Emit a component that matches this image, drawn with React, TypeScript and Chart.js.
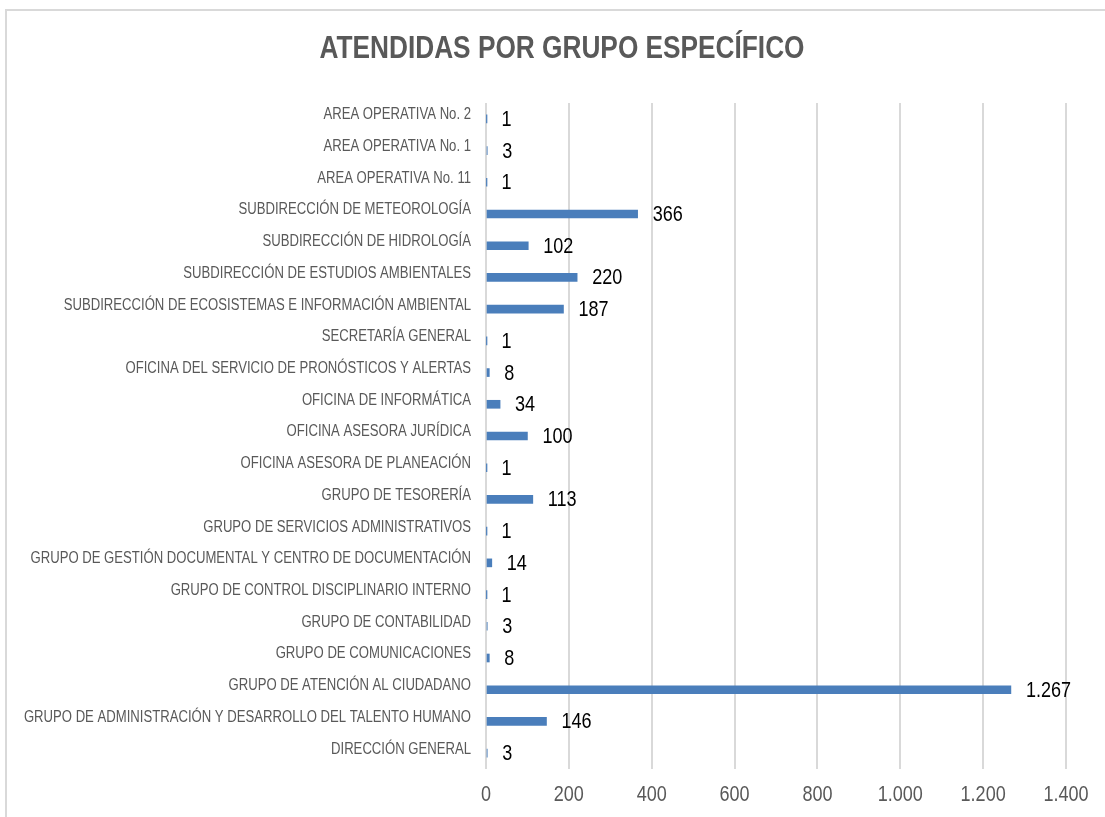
import React, { useEffect, useRef } from "react";
import { Chart, registerables } from "chart.js";

Chart.register(...registerables);

const chartTitle = "ATENDIDAS POR GRUPO ESPECÍFICO";

const categories = [
  "AREA OPERATIVA No. 2",
  "AREA OPERATIVA No. 1",
  "AREA OPERATIVA No. 11",
  "SUBDIRECCIÓN DE METEOROLOGÍA",
  "SUBDIRECCIÓN DE HIDROLOGÍA",
  "SUBDIRECCIÓN DE ESTUDIOS AMBIENTALES",
  "SUBDIRECCIÓN DE ECOSISTEMAS E INFORMACIÓN AMBIENTAL",
  "SECRETARÍA GENERAL",
  "OFICINA DEL SERVICIO DE PRONÓSTICOS Y ALERTAS",
  "OFICINA DE INFORMÁTICA",
  "OFICINA ASESORA JURÍDICA",
  "OFICINA ASESORA DE PLANEACIÓN",
  "GRUPO DE TESORERÍA",
  "GRUPO DE SERVICIOS ADMINISTRATIVOS",
  "GRUPO DE GESTIÓN DOCUMENTAL Y CENTRO DE DOCUMENTACIÓN",
  "GRUPO DE CONTROL DISCIPLINARIO INTERNO",
  "GRUPO DE CONTABILIDAD",
  "GRUPO DE COMUNICACIONES",
  "GRUPO DE ATENCIÓN AL CIUDADANO",
  "GRUPO DE ADMINISTRACIÓN Y DESARROLLO DEL TALENTO HUMANO",
  "DIRECCIÓN GENERAL",
];

const values = [1, 3, 1, 366, 102, 220, 187, 1, 8, 34, 100, 1, 113, 1, 14, 1, 3, 8, 1267, 146, 3];

const xMin = 0;
const xMax = 1400;
const xStep = 200;

const FONT = '"Liberation Sans", Arial, sans-serif';
const NARROW = 0.82; // horizontal squeeze to imitate Arial Narrow

const fmt = (v: number) => String(Math.round(v)).replace(/\B(?=(\d{3})+(?!\d))/g, ".");

const condensedText = {
  id: "condensedText",
  afterDraw(chart: any) {
    const ctx = chart.ctx;
    const xs = chart.scales.x;
    const ys = chart.scales.y;
    const draw = (text: string, px: number, py: number, align: CanvasTextAlign, font: string, color: string) => {
      ctx.save();
      ctx.font = font;
      ctx.fillStyle = color;
      ctx.textAlign = align;
      ctx.textBaseline = "middle";
      ctx.translate(px, py);
      ctx.scale(NARROW, 1);
      ctx.fillText(text, 0, 0);
      ctx.restore();
    };
    // title
    draw(chartTitle, 562, 49, "center", `bold 32px ${FONT}`, "#595959");
    // category labels
    categories.forEach((c, i) => {
      draw(c, ys.left + ys.width - 15, ys.getPixelForTick(i) - 4, "right", `16px ${FONT}`, "#595959");
    });
    // x tick labels
    xs.ticks.forEach((t: any, i: number) => {
      draw(fmt(t.value), xs.getPixelForTick(i), 795, "center", `22px ${FONT}`, "#595959");
    });
    // value labels
    const meta = chart.getDatasetMeta(0);
    meta.data.forEach((bar: any, i: number) => {
      draw(fmt(values[i]), bar.x + 15, bar.y + 1, "left", `22px ${FONT}`, "#000000");
    });
  },
};

export default function App() {
  const ref = useRef<HTMLCanvasElement | null>(null);

  useEffect(() => {
    if (!ref.current) return;
    const chart = new Chart(ref.current, {
      type: "bar",
      data: {
        labels: categories,
        datasets: [
          {
            data: values,
            backgroundColor: "#4A7EBB",
            barThickness: 8,
          },
        ],
      },
      options: {
        indexAxis: "y",
        responsive: false,
        animation: false,
        devicePixelRatio: 1,
        layout: { padding: { left: 0, right: 39, top: 103, bottom: 0 } },
        plugins: {
          legend: { display: false },
          tooltip: { enabled: false },
          title: { display: false },
        },
        scales: {
          x: {
            min: xMin,
            max: xMax,
            border: { display: false },
            grid: { color: "#d9d9d9", lineWidth: 2, drawTicks: false },
            ticks: { stepSize: xStep, display: false },
            afterFit: (s: any) => {
              s.height = 48;
            },
          },
          y: {
            border: { display: false },
            grid: { display: false, drawTicks: false },
            ticks: { display: false, autoSkip: false },
            afterFit: (s: any) => {
              s.width = 486;
            },
          },
        },
      },
      plugins: [condensedText],
    });
    return () => chart.destroy();
  }, []);

  return (
    <div style={{ position: "fixed", inset: 0, overflow: "hidden", background: "#ffffff" }}>
      <div
        style={{
          position: "absolute",
          left: 5,
          top: 9,
          right: -10,
          bottom: -10,
          border: "2px solid #d9d9d9",
        }}
      />
      <canvas
        ref={ref}
        width={1105}
        height={817}
        style={{ position: "absolute", left: 0, top: 0, width: 1105, height: 817 }}
      />
    </div>
  );
}
